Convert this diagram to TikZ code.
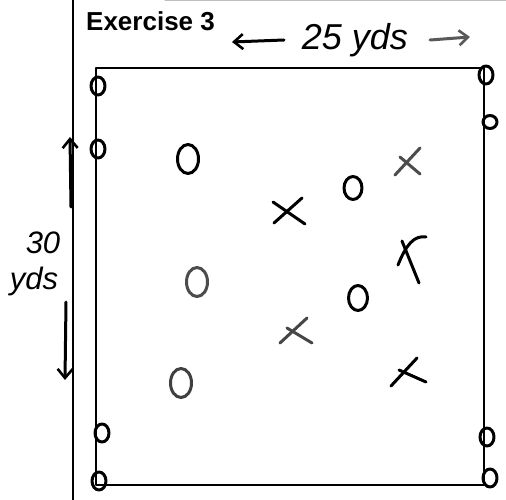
\documentclass[tikz,border=0pt]{standalone}
\usepackage{fontspec}
\setmainfont{Liberation Sans}
\usetikzlibrary{arrows.meta,shapes.geometric}
\begin{document}
\begin{tikzpicture}[x=1pt,y=-1pt,
  line cap=round, line join=round,
  pen/.style={line width=3pt, black},
  cone/.style={draw, line width=3pt, ellipse, minimum width=14pt, minimum height=18pt, inner sep=0pt},
  ring/.style={draw, line width=3pt, ellipse, minimum width=21pt, minimum height=29pt, inner sep=0pt},
  hand/.style={font=\itshape\fontsize{36}{36}\selectfont, inner sep=0pt},
  handsm/.style={font=\itshape\fontsize{31}{31}\selectfont, inner sep=0pt},
  barb/.style={-{Straight Barb[length=9pt,width=15pt,line width=2.6pt]}},
]
\useasboundingbox (0,0) rectangle (506,500);
\fill[white] (0,0) rectangle (506,500);
% outer frame
\draw[line width=2.4pt] (73,0) -- (73,500);
\draw[line width=1pt, gray!50] (165,1) -- (506,1);
% field
\draw[line width=2.6pt] (96,68) rectangle (484,485);
% title
\node[anchor=west, font=\bfseries\fontsize{26}{26}\selectfont, inner sep=0pt] (title) at (86,21) {Exercise 3};
% width label
\node[hand] (w) at (355,40) {25 yds};
\coordinate (wl0) at (284,40);
\coordinate (wl) at (232,42);
\coordinate (wr0) at (430,40);
\coordinate (wr) at (470,37);
\draw[pen, barb] (wl0) -- (wl);
\draw[pen, gray!70!black, barb] (wr0) -- (wr);
% height label
\node[handsm] (h1) at (43,243) {30};
\node[handsm] (h2) at (34,281) {yds};
\coordinate (hu0) at (71,207);
\coordinate (hu) at (70,137);
\coordinate (hd0) at (66,302);
\coordinate (hd) at (65,380);
\draw[pen, barb] (hu0) -- (hu);
\draw[pen, barb] (hd0) -- (hd);
% cones
\node[cone] (c1) at (98,86) {};
\node[cone] (c2) at (98,149) {};
\node[cone] (c3) at (102,433) {};
\node[cone] (c4) at (99,481) {};
\node[cone] (c5) at (486,75) {};
\node[cone, minimum height=13pt] (c6) at (490,122) {};
\node[cone] (c7) at (487,437) {};
\node[cone] (c8) at (490,478) {};
% players O
\node[ring] (o1) at (188,159) {};
\node[ring, draw=black!70] (o2) at (197,282) {};
\node[ring, draw=black!75] (o3) at (181,383) {};
\node[ring, minimum width=18pt, minimum height=23pt] (o4) at (353,188) {};
\node[ring, minimum width=19pt, minimum height=25pt] (o5) at (358,298) {};
% players X
\coordinate (x1) at (290,212);
\coordinate (x2) at (405,165);
\coordinate (x3) at (406,255);
\coordinate (x4) at (297,332);
\coordinate (x5) at (407,372);
\draw[pen] ([shift={(-16,11)}]x1) -- ([shift={(12,-14)}]x1);
\draw[pen] ([shift={(-17,-10)}]x1) -- ([shift={(15,12)}]x1);
\draw[pen, gray!60!black] ([shift={(-10,10)}]x2) -- ([shift={(15,-17)}]x2);
\draw[pen, gray!60!black] ([shift={(-5,-8)}]x2) -- ([shift={(15,9)}]x2);
\draw[pen] ([shift={(-4,-14)}]x3) -- ([shift={(13,28)}]x3);
\draw[pen] ([shift={(-8,10)}]x3) .. controls ([shift={(0,-10)}]x3) and ([shift={(8,-20)}]x3) .. ([shift={(20,-18)}]x3);
\draw[pen, gray!55!black] ([shift={(-17,11)}]x4) -- ([shift={(10,-14)}]x4);
\draw[pen, gray!55!black] ([shift={(-10,-4)}]x4) -- ([shift={(15,11)}]x4);
\draw[pen] ([shift={(-16,14)}]x5) -- ([shift={(10,-14)}]x5);
\draw[pen] ([shift={(-8,-2)}]x5) -- ([shift={(19,10)}]x5);
\end{tikzpicture}
\end{document}
